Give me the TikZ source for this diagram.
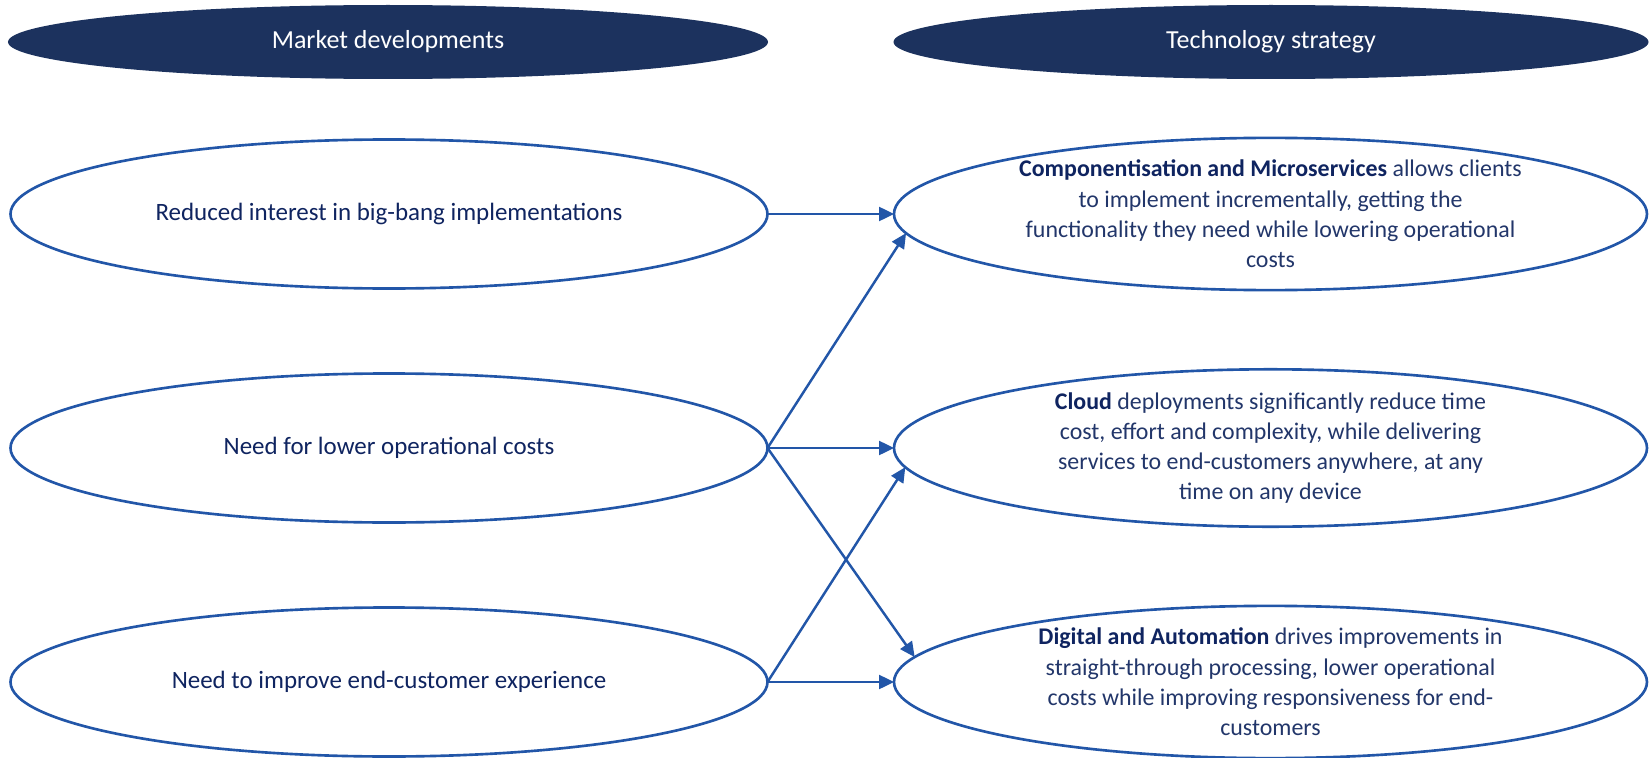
\documentclass[tikz,border=0pt]{standalone}
\usepackage{fontspec}
\setmainfont{Carlito}
\usetikzlibrary{shapes.geometric,arrows.meta}
\definecolor{navy}{HTML}{1C325E}
\definecolor{linkblue}{HTML}{2256A8}
\definecolor{inktext}{HTML}{22366A}
\definecolor{inkdark}{HTML}{0F2460}
\newcommand{\keyterm}[1]{\textbf{\color{inkdark}#1}}
\begin{document}
\begin{tikzpicture}[
    header/.style={ellipse,fill=navy,text=white,inner sep=0pt,outer sep=0pt,
      minimum height=1.48cm,font=\fontsize{14.8}{18}\selectfont},
    market/.style={ellipse,draw=linkblue,line width=1.5pt,fill=white,text=inkdark,
      inner sep=0pt,outer sep=0pt,minimum width=15.14cm,minimum height=2.98cm,
      font=\fontsize{14.2}{17.2}\selectfont},
    strategy/.style={market,minimum width=15.06cm,align=center,text=inktext,
      font=\fontsize{13.6}{17.2}\selectfont},
    link/.style={draw=linkblue,line width=1.4pt,-{Triangle[length=0.3cm,width=0.28cm]}}
  ]
    \useasboundingbox (0,0) rectangle (32.98,15.14);
    \node[header,minimum width=15.2cm] (mhead) at (7.76,14.30) {Market developments};
    \node[header,minimum width=15.1cm] (thead) at (25.42,14.30) {Technology strategy};
    \node[market] (m1) at (7.78,10.86) {Reduced interest in big-bang implementations};
    \node[market] (m2) at (7.78,6.18) {Need for lower operational costs};
    \node[market] (m3) at (7.78,1.50) {Need to improve end-customer experience};
    \node[strategy] (t1) at (25.41,10.86) {\keyterm{Componentisation and Microservices} allows clients\\
      to implement incrementally, getting the\\
      functionality they need while lowering operational\\
      costs};
    \node[strategy] (t2) at (25.41,6.18) {\keyterm{Cloud} deployments significantly reduce time\\
      cost, effort and complexity, while delivering\\
      services to end-customers anywhere, at any\\
      time on any device};
    \node[strategy] (t3) at (25.41,1.50) {\keyterm{Digital and Automation} drives improvements in\\
      straight-through processing, lower operational\\
      costs while improving responsiveness for end-\\
      customers};
    \draw[link] (m1.east) -- (t1.west);
    \draw[link] (m2.east) -- (t1.183.5);
    \draw[link] (m2.east) -- (t2.west);
    \draw[link] (m2.east) -- (t3.176.5);
    \draw[link] (m3.east) -- (t2.183.5);
    \draw[link] (m3.east) -- (t3.west);
  \end{tikzpicture}
\end{document}
